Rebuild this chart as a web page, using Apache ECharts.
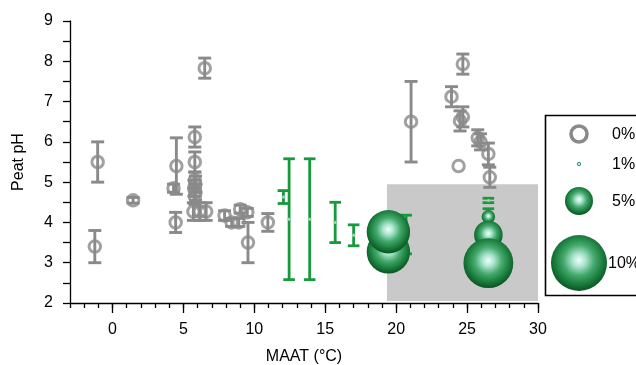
<!DOCTYPE html>
<html>
<head>
<meta charset="utf-8">
<script src="https://cdn.jsdelivr.net/npm/echarts@6/dist/echarts.min.js"></script>
<style>
  html, body { margin: 0; padding: 0; background: #fff; }
  #chart { width: 636px; height: 365px; }
</style>
</head>
<body>
<div id="chart"></div>
<script>
// Peat pH against mean annual air temperature (MAAT)

// Sites without the marker compound: [MAAT, pH, pH error]
const graySites = [
  [-1.25, 3.4, 0.4],
  [-1.05, 5.5, 0.5],
  [1.45, 4.55, 0.07],
  [4.3, 4.85, 0.1],
  [4.5, 5.4, 0.7],
  [4.45, 4.0, 0.25],
  [5.8, 6.12, 0.25],
  [5.8, 5.5, 0.25],
  [5.8, 5.05, 0.2],
  [5.85, 4.95, 0.2],
  [5.75, 4.85, 0.2],
  [5.85, 4.75, 0.2],
  [5.8, 4.65, 0.2],
  [5.7, 4.27, 0.22],
  [6.15, 4.27, 0.22],
  [6.6, 4.27, 0.22],
  [6.5, 7.83, 0.25],
  [7.9, 4.17, 0.12],
  [8.4, 4.0, 0.1],
  [8.9, 4.0, 0.1],
  [9.0, 4.33, 0.1],
  [9.5, 4.25, 0.1],
  [9.55, 3.5, 0.5],
  [10.95, 4.0, 0.22],
  [21.05, 6.5, 1.0],
  [24.7, 7.93, 0.25],
  [23.9, 7.12, 0.25],
  [24.7, 6.62, 0.25],
  [24.5, 6.52, 0.25],
  [24.4, 5.4, 0],
  [25.75, 6.1, 0.2],
  [25.95, 6.0, 0.2],
  [26.5, 5.7, 0.27],
  [26.6, 5.12, 0.25]
];

// Sites with trace amounts: [MAAT, pH, pH error]
const greenSites = [
  [12.05, 4.63, 0.16],
  [12.45, 4.08, 1.5],
  [13.9, 4.08, 1.5],
  [15.7, 4.0, 0.5],
  [17.0, 3.68, 0.26],
  [20.7, 3.7, 0.48],
  [26.5, 4.545, 0.055],
  [26.5, 4.14, 0.2]
];

// Sites with abundant marker: [MAAT, pH, abundance %]
const bubbleSites = [
  [19.45, 3.27, 7.75],
  [19.45, 3.77, 7.75],
  [26.5, 4.14, 2.4],
  [26.5, 3.69, 5.1],
  [26.5, 2.99, 8.9]
];

// Warm, acidic region: MAAT range and pH range
const shadeMAAT = [19.35, 30];
const shadePH = [2.05, 4.95];

// Axis ticks
const xMajorTicks = [0, 5, 10, 15, 20, 25, 30];
const xMinorTicks = [-3, -2, -1, 0, 1, 2, 3, 4, 5, 6, 7, 8, 9, 10, 11, 12, 13, 14, 15,
  16, 17, 18, 19, 20, 21, 22, 23, 24, 25, 26, 27, 28, 29, 30];

// Legend entries
const legendPct = [0, 1, 5, 10];
const legendLabels = ['0%', '1%', '5%', '10%'];

const GRAY = '#8a8a8a';
const GREEN = '#169a3b';
const FONT = 'Liberation Sans, Arial, sans-serif';

const bubbleFill = new echarts.graphic.RadialGradient(0.5, 0.45, 0.55, [
  { offset: 0, color: '#f2fffd' },
  { offset: 0.22, color: '#a9e4cd' },
  { offset: 0.5, color: '#45a96d' },
  { offset: 0.8, color: '#177a3a' },
  { offset: 1, color: '#0a5322' }
]);

function bubbleDiameter(pct) { return 5.6 * pct; }

function errorBars(color, capHalf, width) {
  return function (params, api) {
    const x = api.value(0), y = api.value(1), e = api.value(2);
    if (!e) return null;
    const top = api.coord([x, y + e]);
    const bot = api.coord([x, y - e]);
    const st = { stroke: color, lineWidth: width };
    return {
      type: 'group',
      children: [
        { type: 'line', shape: { x1: top[0], y1: top[1], x2: bot[0], y2: bot[1] }, style: st },
        { type: 'line', shape: { x1: top[0] - capHalf, y1: top[1], x2: top[0] + capHalf, y2: top[1] }, style: st },
        { type: 'line', shape: { x1: bot[0] - capHalf, y1: bot[1], x2: bot[0] + capHalf, y2: bot[1] }, style: st }
      ]
    };
  };
}

const chart = echarts.init(document.getElementById('chart'), null, { renderer: 'canvas' });

const lx = 579, legendRows = [134, 164, 201, 263];
const legendGraphics = [
  {
    type: 'rect', shape: { x: 545.5, y: 115.5, width: 120, height: 180 },
    style: { fill: '#fff', stroke: '#000', lineWidth: 1.6 }, z: 10
  }
];
legendPct.forEach(function (p, i) {
  let circ;
  if (p === 0) {
    circ = { type: 'circle', shape: { cx: lx, cy: legendRows[i], r: 8 }, style: { fill: 'none', stroke: GRAY, lineWidth: 3.6 } };
  } else if (p === 1) {
    circ = { type: 'circle', shape: { cx: lx, cy: legendRows[i], r: 1.7 }, style: { fill: '#cfe9dc', stroke: '#2f9a5c', lineWidth: 1 } };
  } else {
    circ = { type: 'circle', shape: { cx: lx, cy: legendRows[i], r: bubbleDiameter(p) / 2 }, style: { fill: bubbleFill } };
  }
  circ.z = 11;
  legendGraphics.push(circ);
  legendGraphics.push({
    type: 'text', z: 11,
    style: {
      x: p >= 10 ? 608 : 612, y: legendRows[i] + 1, text: legendLabels[i],
      font: '16px ' + FONT, fill: '#000', verticalAlign: 'middle', align: 'left'
    }
  });
});

const option = {
  animation: false,
  backgroundColor: '#fff',
  textStyle: { fontFamily: FONT },
  grid: { left: 70, right: 98, top: 21, bottom: 62, containLabel: false, outerBoundsMode: 'none' },
  xAxis: [
    {
      type: 'value', min: -3, max: 30,
      name: 'MAAT (°C)', nameLocation: 'middle', nameGap: 46,
      nameTextStyle: { fontSize: 16, color: '#000', fontFamily: FONT },
      axisLine: { show: true, onZero: false, lineStyle: { color: '#000', width: 1.3 } },
      axisTick: { show: true, customValues: xMajorTicks, length: 10, lineStyle: { color: '#000', width: 1.3 } },
      axisLabel: { show: true, customValues: xMajorTicks, margin: 19, fontSize: 16, color: '#000', fontFamily: FONT },
      splitLine: { show: false }
    },
    {
      type: 'value', min: -3, max: 30, position: 'bottom',
      axisLine: { show: false, onZero: false },
      axisTick: { show: true, customValues: xMinorTicks, length: 5, lineStyle: { color: '#000', width: 1.3 } },
      axisLabel: { show: false },
      splitLine: { show: false }
    }
  ],
  yAxis: {
    type: 'value', min: 2, max: 9, interval: 1,
    name: 'Peat pH', nameLocation: 'middle', nameGap: 43,
    nameTextStyle: { fontSize: 16, color: '#000', fontFamily: FONT },
    axisLine: { show: true, onZero: false, lineStyle: { color: '#000', width: 1.3 } },
    axisTick: { show: true, length: 7, lineStyle: { color: '#000', width: 1.3 } },
    minorTick: { show: true, splitNumber: 2, length: 7, lineStyle: { color: '#000', width: 1.3 } },
    axisLabel: { margin: 17, fontSize: 16, color: '#000', fontFamily: FONT },
    splitLine: { show: false }
  },
  graphic: legendGraphics,
  series: [
    {
      name: 'shade', type: 'scatter', data: [], silent: true,
      markArea: {
        silent: true,
        itemStyle: { color: '#c9c9c9' },
        data: [[{ coord: [shadeMAAT[0], shadePH[1]] }, { coord: [shadeMAAT[1], shadePH[0]] }]]
      },
      z: 1
    },
    {
      name: 'grayErr', type: 'custom', data: graySites, encode: { x: 0, y: 1 },
      renderItem: errorBars(GRAY, 6.5, 2.9), z: 3, silent: true
    },
    {
      name: 'gray', type: 'scatter', data: graySites.map(function (d) { return [d[0], d[1]]; }),
      symbol: 'circle', symbolSize: 11.5,
      itemStyle: { color: 'rgba(255,255,255,0)', borderColor: GRAY, borderWidth: 3 }, z: 4
    },
    {
      name: 'greenErr', type: 'custom', data: greenSites, encode: { x: 0, y: 1 },
      renderItem: errorBars(GREEN, 5.8, 2.8), z: 3, silent: true
    },
    {
      name: 'trace', type: 'scatter', data: greenSites.map(function (d) { return [d[0], d[1]]; }),
      symbol: 'circle', symbolSize: 3,
      itemStyle: { color: '#d5e7dc', borderColor: '#7fb394', borderWidth: 0.6 }, z: 4
    },
    {
      name: 'bubbles', type: 'scatter', data: bubbleSites,
      symbol: 'circle',
      symbolSize: function (d) { return bubbleDiameter(d[2]); },
      itemStyle: { color: bubbleFill, opacity: 1 }, z: 5
    }
  ]
};

chart.setOption(option);
</script>
</body>
</html>
